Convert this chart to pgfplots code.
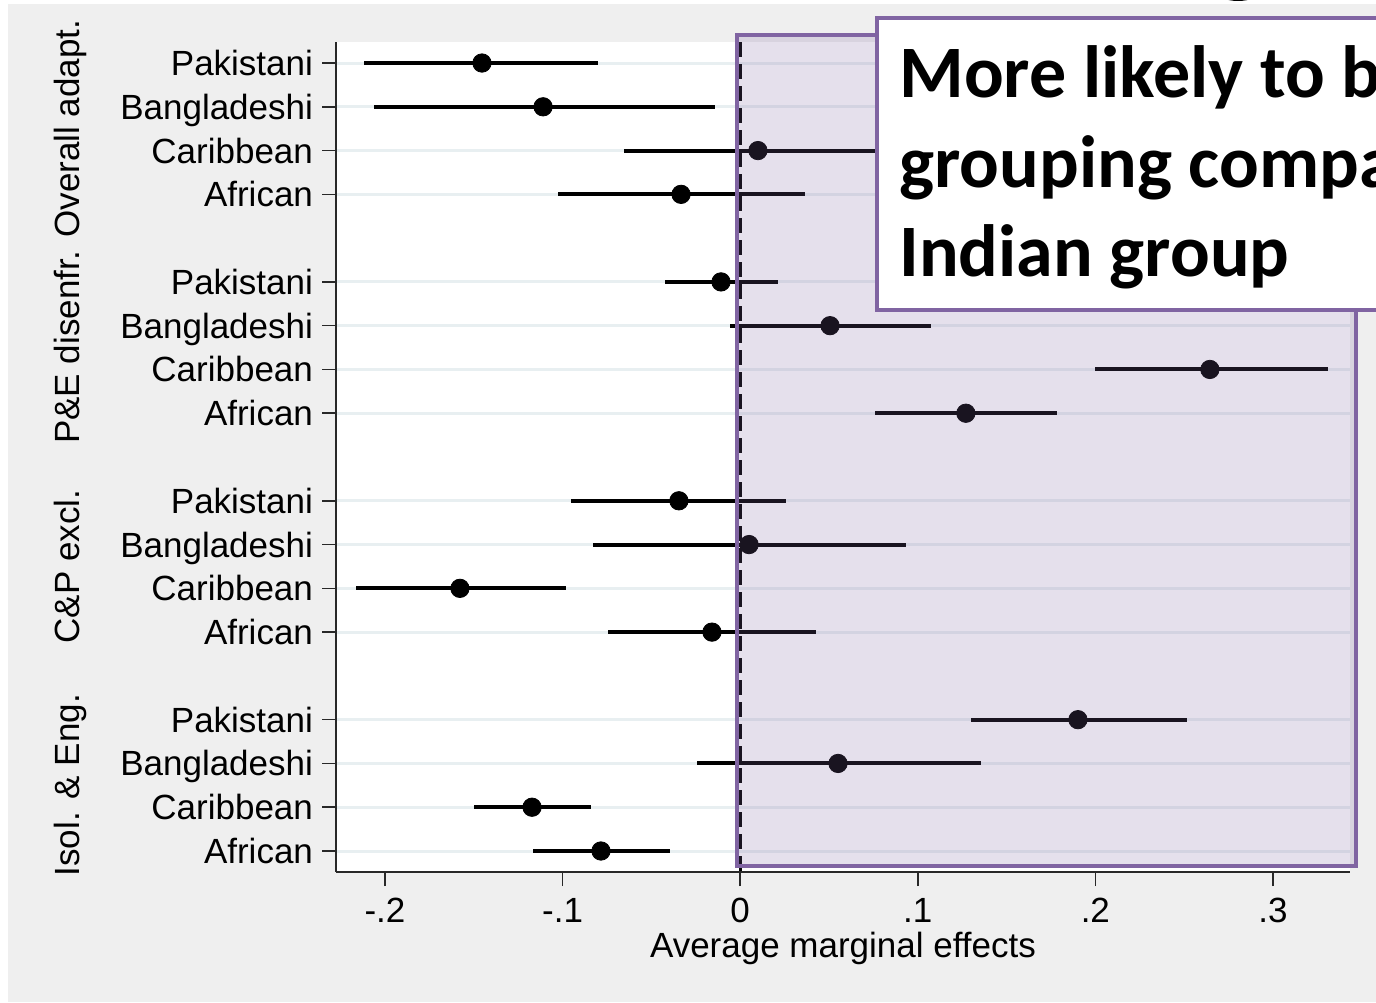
\documentclass[border=0pt]{standalone}
\usepackage{fontspec}
\setmainfont{Liberation Sans}
\newfontfamily\calibri{Carlito}
\usepackage{pgfplots}
\pgfplotsset{compat=1.18}
\usepackage{pgfplotstable}

\definecolor{panelgray}{RGB}{239,239,239}
\definecolor{gridc}{RGB}{232,239,241}
\definecolor{boxpurple}{RGB}{128,100,162}
\definecolor{axisc}{RGB}{40,40,40}

% Average marginal effects with 95% confidence bounds
% pos: row on the vertical axis (gaps separate the four outcomes)
\pgfplotstableread{
pos est lo hi
1 -0.1454 -0.2118 -0.0801
2 -0.1110 -0.2062 -0.0142
3 0.0100 -0.0654 0.0850
4 -0.0333 -0.1026 0.0365
6 -0.0108 -0.0423 0.0213
7 0.0506 -0.0057 0.1074
8 0.2645 0.1997 0.3310
9 0.1271 0.0759 0.1784
11 -0.0345 -0.0953 0.0258
12 0.0050 -0.0829 0.0933
13 -0.1578 -0.2164 -0.0981
14 -0.0159 -0.0744 0.0427
16 0.1902 0.1299 0.2515
17 0.0551 -0.0243 0.1356
18 -0.1172 -0.1499 -0.0840
19 -0.0784 -0.1167 -0.0395
}\ametable

\newcommand{\lblfont}{\fontsize{17.5}{21}\selectfont}

\begin{document}
\begin{tikzpicture}
\path[use as bounding box] (0,0) rectangle (688pt,501pt);
\clip (0,0) rectangle (688pt,501pt);
\fill[panelgray] (4pt,0) rectangle (688pt,499pt);

\begin{axis}[
  at={(168pt,65pt)}, anchor=south west,
  width=507pt, height=415pt, scale only axis,
  xmin=-0.2276, xmax=0.3434,
  ymin=0.52, ymax=19.48, y dir=reverse,
  axis background/.style={fill=white},
  axis lines*=left,
  axis line style={-, draw=axisc, line width=0.75pt},
  tick style={draw=axisc, line width=0.75pt},
  tick align=outside, major tick length=7pt,
  xtick={-0.2,-0.1,0,0.1,0.2,0.3},
  xticklabels={-.2,-.1,0,.1,.2,.3},
  ytick={1,2,3,4,6,7,8,9,11,12,13,14,16,17,18,19},
  yticklabels={Pakistani,Bangladeshi,Caribbean,African,
               Pakistani,Bangladeshi,Caribbean,African,
               Pakistani,Bangladeshi,Caribbean,African,
               Pakistani,Bangladeshi,Caribbean,African},
  ymajorgrids,
  major grid style={draw=gridc, line width=1.5pt},
  ticklabel style={font=\lblfont},
  xticklabel style={yshift=-2.5pt},
  yticklabel style={anchor=base east, yshift=-6.27pt, xshift=-1pt},
  clip=false,
]
\draw[black, line width=1.5pt, dash pattern=on 7.5pt off 3.5pt]
  (axis cs:0,0.52) -- (axis cs:0,19.48);

\addplot[only marks, mark=*, mark size=4.6pt, black,
  error bars/.cd, x dir=both, x explicit, error mark=none,
  error bar style={line width=2pt, black}]
  table[x=est, y=pos,
        x error plus expr=\thisrow{hi}-\thisrow{est},
        x error minus expr=\thisrow{est}-\thisrow{lo}] {\ametable};

\node[rotate=90, anchor=base, font=\lblfont] at ([xshift=-128pt]axis cs:-0.2276,2.5) {Overall adapt.};
\node[rotate=90, anchor=base, font=\lblfont] at ([xshift=-128pt]axis cs:-0.2276,7.5) {P\&E disenfr.};
\node[rotate=90, anchor=base, font=\lblfont] at ([xshift=-128pt]axis cs:-0.2276,12.5) {C\&P excl.};
\node[rotate=90, anchor=base, font=\lblfont] at ([xshift=-128pt]axis cs:-0.2276,17.5) {Isol. \& Eng.};
\end{axis}

\node[anchor=base, font=\lblfont] at (421.5pt,22.5pt) {Average marginal effects};

% shaded region of positive effects
\fill[boxpurple, fill opacity=0.2] (368.5pt,68pt) rectangle (678pt,483.5pt);
\draw[boxpurple, line width=2pt] (368.5pt,68pt) rectangle (678pt,483.5pt);

% callout
\draw[boxpurple, line width=2pt, fill=white] (438.5pt,346pt) rectangle (720pt,492pt);
\begin{scope}[every node/.style={anchor=base west, inner sep=0pt,
      font=\calibri\bfseries\fontsize{37}{44}\selectfont}]
\node at (449.5pt,452pt) {More likely to be in this};
\node at (449.5pt,407pt) {grouping compared to};
\node at (449.5pt,362.5pt) {Indian group};
\end{scope}

\fill[black] (619pt,505.5pt) ellipse (11pt and 5pt);
\end{tikzpicture}
\end{document}
